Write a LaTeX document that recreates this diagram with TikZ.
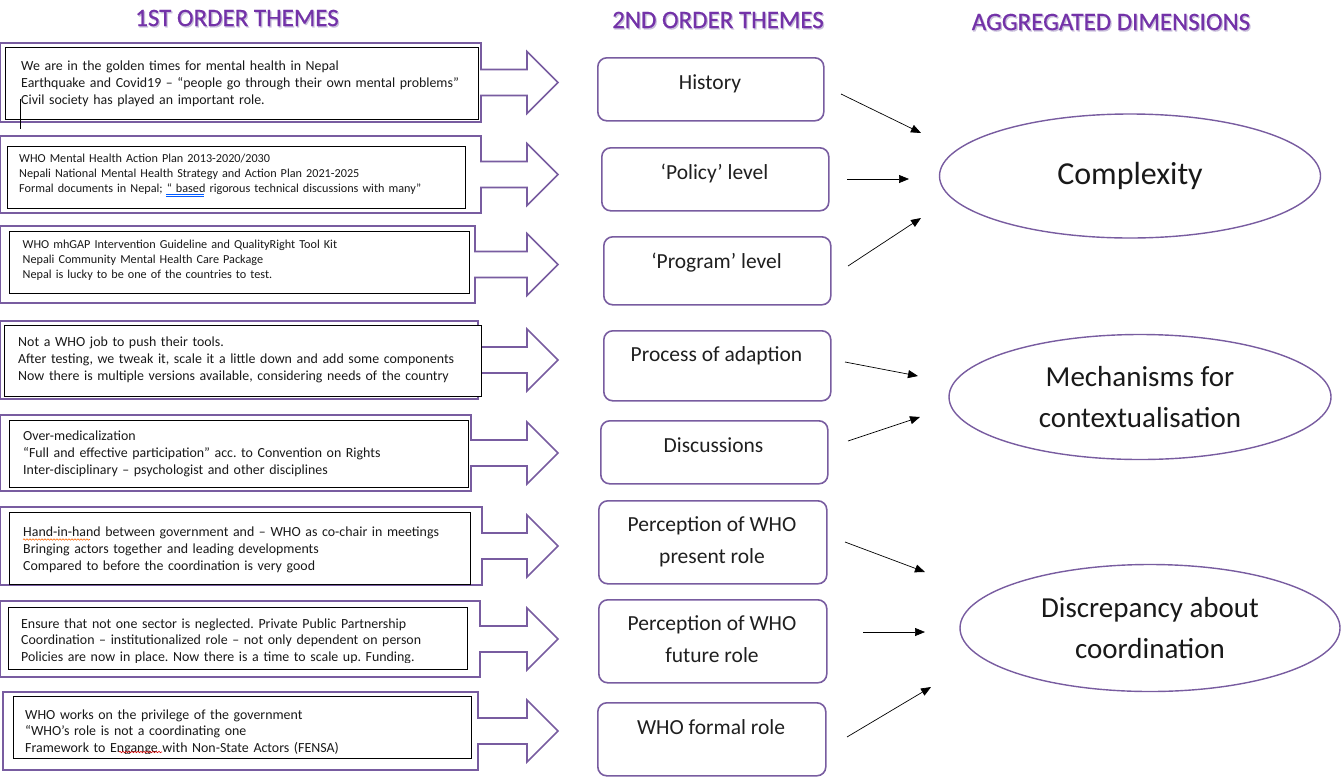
\documentclass[tikz,border=0pt]{standalone}
\usepackage{fontspec}
\setmainfont{Carlito}
\newfontfamily\headfont{Carlito}[FakeBold=0.6]
\usetikzlibrary{arrows.meta,shapes.geometric,decorations.pathmorphing}
\definecolor{boxpurple}{RGB}{120,92,160}
\definecolor{headpurple}{RGB}{115,50,168}
\definecolor{glowcol}{RGB}{200,190,218}
\tikzset{
  blockarrow/.style={draw=boxpurple, line width=1.6pt, fill=white, line join=miter},
  textbox/.style={draw=black, line width=0.8pt, fill=white, anchor=north west, inner sep=0pt},
  boxtext/.style={anchor=base west, inner sep=0pt, align=left, text width=460pt, text=black!90},
  bigline/.style={font=\fontsize{13.9}{17}\selectfont},
  smallline/.style={font=\fontsize{12.2}{15}\selectfont},
  themebox/.style={draw=boxpurple, line width=1.6pt, rounded corners=9pt, fill=white, anchor=north west, inner sep=0pt},
  themetext/.style={font=\fontsize{21.5}{32}\selectfont, align=center, anchor=base, inner sep=0pt, text=black!88},
  dimension/.style={ellipse, draw=boxpurple, line width=1.4pt, inner sep=0pt, align=center, font=\fontsize{29}{41}\selectfont, text=black!90},
  link/.style={-{Triangle[length=10pt,width=8pt]}, line width=0.7pt, black},
  header/.style={font=\headfont\fontsize{25}{28}\selectfont, text=headpurple},
  squiggle/.style={decorate, decoration={snake, amplitude=0.7pt, segment length=3pt}, line width=0.6pt},
}
\begin{document}
\frenchspacing
\begin{tikzpicture}[x=1pt,y=-1pt]
\useasboundingbox (0,0) rectangle (1341,777);

% headers
\node[header, text=glowcol] (h1g) at (238.2,19.4) {1ST ORDER THEMES};
\node[header] (h1) at (237,18) {1ST ORDER THEMES};
\node[header, text=glowcol] (h2g) at (719.2,21.4) {2ND ORDER THEMES};
\node[header] (h2) at (718,20) {2ND ORDER THEMES};
\node[header, text=glowcol] (h3g) at (1112.2,23.4) {AGGREGATED DIMENSIONS};
\node[header] (h3) at (1111,22) {AGGREGATED DIMENSIONS};

% block arrows (outer purple shapes)
\foreach \l/\t/\r/\b in {0/43/481/122, 0/136/481/213, 0/226/475/303, 0/321/478/399,
                         0/415/471/491, 0/507/482/585, 0/601/480/677, 3/692/478/770}{
  \pgfmathsetmacro\c{(\t+\b)/2}
  \draw[blockarrow] (\l,\t) -- (\r,\t) -- (\r,\c-13) -- (527,\c-13) -- (527,\c-31)
     -- (558,\c) -- (527,\c+31) -- (527,\c+13) -- (\r,\c+13) -- (\r,\b) -- (\l,\b) -- cycle;
}

% inner text boxes
\node[textbox, minimum width=473pt, minimum height=72pt] (b1) at (5,47) {};
\node[boxtext, bigline] (t1) at (21,70) {We are in the golden times for mental health in Nepal\\
Earthquake and Covid19 – “people go through their own mental problems”\\
Civil society has played an important role.};
\draw[line width=0.7pt] (20,99) -- (20,129);

\node[textbox, minimum width=458pt, minimum height=62pt] (b2) at (7,146) {};
\node[boxtext, smallline] (t2) at (19,162) {WHO Mental Health Action Plan 2013-2020/2030\\
Nepali National Mental Health Strategy and Action Plan 2021-2025\\
Formal documents in Nepal; “ based rigorous technical discussions with many”};
\draw[blue!65!cyan, line width=0.5pt] (166,194.5) -- (204,194.5) (166,196.5) -- (204,196.5);

\node[textbox, minimum width=460pt, minimum height=62pt] (b3) at (9,231) {};
\node[boxtext, smallline] (t3) at (22.5,248) {WHO mhGAP Intervention Guideline and QualityRight Tool Kit\\
Nepali Community Mental Health Care Package\\
Nepal is lucky to be one of the countries to test.};

\node[textbox, minimum width=477pt, minimum height=71pt] (b4) at (4,325) {};
\node[boxtext, bigline] (t4) at (18,346) {Not a WHO job to push their tools.\\
After testing, we tweak it, scale it a little down and add some components\\
Now there is multiple versions available, considering needs of the country};

\node[textbox, minimum width=459pt, minimum height=67pt] (b5) at (9,420) {};
\node[boxtext, bigline] (t5) at (23,440) {Over-medicalization\\
“Full and effective participation” acc. to Convention on Rights\\
Inter-disciplinary – psychologist and other disciplines};

\node[textbox, minimum width=461pt, minimum height=72pt] (b6) at (9,512) {};
\node[boxtext, bigline] (t6) at (23,536) {Hand-in-hand between government and – WHO as co-chair in meetings\\
Bringing actors together and leading developments\\
Compared to before the coordination is very good};
\draw[squiggle, orange!80!red] (23,539.5) -- (90,539.5);

\node[textbox, minimum width=459pt, minimum height=62pt] (b7) at (8,607) {};
\begin{scope}
\clip (8,607) rectangle (467,662);
\node[boxtext, bigline, font=\fontsize{13.9}{16.5}\selectfont] (t7) at (21,628) {Ensure that not one sector is neglected. Private Public Partnership\\
Coordination – institutionalized role – not only dependent on person\\
Policies are now in place. Now there is a time to scale up. Funding.};
\end{scope}

\node[textbox, minimum width=458pt, minimum height=62pt] (b8) at (13,696) {};
\begin{scope}
\clip (13,696) rectangle (471,753);
\node[boxtext, bigline, font=\fontsize{13.9}{16.5}\selectfont] (t8) at (25,719) {WHO works on the privilege of the government\\
“WHO’s role is not a coordinating one\\
Framework to Engange with Non-State Actors (FENSA)};
\draw[squiggle, red!85!black] (119,752) -- (162,752);
\end{scope}

% second-order themes
\node[themebox, minimum width=226pt, minimum height=63pt] (s1) at (597,57) {};
\node[themetext] (s1t) at (710,89) {History};
\node[themebox, minimum width=227pt, minimum height=63pt] (s2) at (601,147) {};
\node[themetext] (s2t) at (714.5,179) {‘Policy’ level};
\node[themebox, minimum width=227pt, minimum height=68pt] (s3) at (603,236) {};
\node[themetext] (s3t) at (716.5,268) {‘Program’ level};
\node[themebox, minimum width=227pt, minimum height=70pt] (s4) at (603,330) {};
\node[themetext] (s4t) at (716.5,361) {Process of adaption};
\node[themebox, minimum width=227pt, minimum height=63pt] (s5) at (600,420) {};
\node[themetext] (s5t) at (713.5,452) {Discussions};
\node[themebox, minimum width=228pt, minimum height=83pt] (s6) at (598,500) {};
\node[themetext] (s6t) at (712,563) {Perception of WHO\\present role};
\node[themebox, minimum width=228pt, minimum height=83pt] (s7) at (598,599) {};
\node[themetext] (s7t) at (712,662) {Perception of WHO\\future role};
\node[themebox, minimum width=228pt, minimum height=73pt] (s8) at (597,702) {};
\node[themetext] (s8t) at (711,734) {WHO formal role};

% aggregated dimensions
\node[dimension, minimum width=381pt, minimum height=124pt, font=\fontsize{32}{41}\selectfont] (d1) at (1130,176) {Complexity};
\node[dimension, minimum width=382pt, minimum height=125pt] (d2) at (1140,397) {Mechanisms for\\contextualisation};
\node[dimension, minimum width=380pt, minimum height=127pt] (d3) at (1150,628) {Discrepancy about\\coordination};

% connectors
\coordinate (c1s) at (841,94);  \coordinate (c1e) at (921,133);
\coordinate (c2s) at (847,179); \coordinate (c2e) at (909,179);
\coordinate (c3s) at (848,266); \coordinate (c3e) at (921,218);
\coordinate (c4s) at (845,362); \coordinate (c4e) at (918,376);
\coordinate (c5s) at (848,441); \coordinate (c5e) at (920,417);
\coordinate (c6s) at (845,542); \coordinate (c6e) at (925,572);
\coordinate (c7s) at (863,632); \coordinate (c7e) at (925,632);
\coordinate (c8s) at (847,737); \coordinate (c8e) at (931,687);
\foreach \i in {1,...,8}{ \draw[link] (c\i s) -- (c\i e); }
\end{tikzpicture}
\end{document}
